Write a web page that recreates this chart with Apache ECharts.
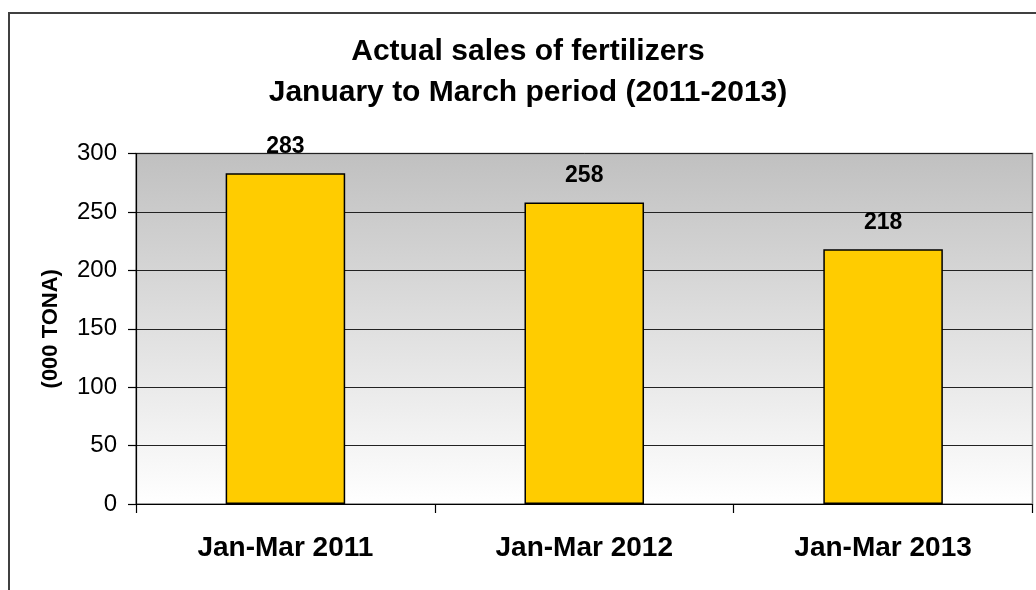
<!DOCTYPE html>
<html>
<head>
<meta charset="utf-8">
<script src="https://cdn.jsdelivr.net/npm/echarts@6/dist/echarts.min.js"></script>
<style>
html,body{margin:0;padding:0;background:#fff;}
#chart{width:1036px;height:590px;}
</style>
</head>
<body>
<div id="chart"></div>
<script>
var titleLines = ['Actual sales of fertilizers', 'January to March period (2011-2013)'];
var categories = ['Jan-Mar 2011', 'Jan-Mar 2012', 'Jan-Mar 2013'];
var sales = [283, 258, 218];
var yAxisName = '(000 TONA)';
var yTicks = {min: 0, max: 300, interval: 50};

var FONT = 'Liberation Sans, Arial, sans-serif';
var chart = echarts.init(document.getElementById('chart'), null, {renderer: 'canvas'});
chart.setOption({
  animation: false,
  backgroundColor: '#fff',
  title: {
    text: titleLines.join('\n'),
    left: 528,
    textAlign: 'center',
    top: 31,
    padding: 0,
    textStyle: {fontFamily: FONT, fontSize: 30, fontWeight: 'bold', color: '#000', lineHeight: 41}
  },
  graphic: [{
    type: 'rect',
    shape: {x: 9, y: 13, width: 2000, height: 2000},
    style: {fill: 'none', stroke: '#404040', lineWidth: 2},
    silent: true
  }],
  grid: {
    left: 136, top: 153.5, right: 3.5, bottom: 86,
    show: true,
    borderColor: '#808080',
    borderWidth: 1.5,
    backgroundColor: new echarts.graphic.LinearGradient(0, 0, 0, 1, [
      {offset: 0, color: '#c0c0c0'},
      {offset: 1, color: '#ffffff'}
    ])
  },
  xAxis: {
    type: 'category',
    data: categories,
    axisLine: {lineStyle: {color: '#000', width: 1.2}},
    axisTick: {show: true, length: 9, lineStyle: {color: '#000', width: 1.2}},
    axisLabel: {fontFamily: FONT, fontSize: 28, fontWeight: 'bold', color: '#000', margin: 30}
  },
  yAxis: {
    type: 'value',
    min: yTicks.min, max: yTicks.max, interval: yTicks.interval,
    name: yAxisName,
    nameLocation: 'middle',
    nameGap: 74,
    nameTextStyle: {fontFamily: FONT, fontSize: 22, fontWeight: 'bold', color: '#000'},
    axisLine: {show: true, lineStyle: {color: '#000', width: 1.2}},
    axisTick: {show: true, length: 8, lineStyle: {color: '#000', width: 1.2}},
    axisLabel: {fontFamily: FONT, fontSize: 24, color: '#000', margin: 19},
    splitLine: {show: true, lineStyle: {color: '#222', width: 1}}
  },
  series: [{
    type: 'bar',
    data: sales,
    barWidth: '40%',
    itemStyle: {color: '#FFCC00', borderColor: '#000', borderWidth: 1.5},
    label: {show: true, position: 'top', distance: 15, fontFamily: FONT, fontSize: 23, fontWeight: 'bold', color: '#000'}
  }]
});
</script>
</body>
</html>
